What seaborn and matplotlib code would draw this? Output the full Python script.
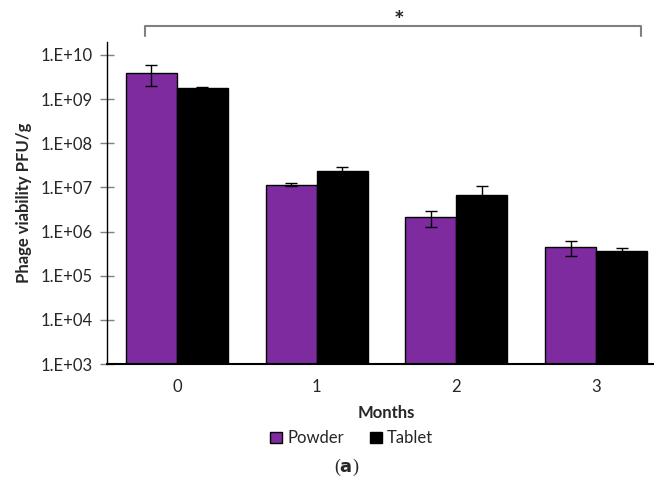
import numpy as np
import pandas as pd
import matplotlib
matplotlib.use("Agg")
import matplotlib.pyplot as plt
import seaborn as sns
from matplotlib.ticker import FixedLocator, FuncFormatter, NullLocator

months = ["0", "1", "2", "3"]
formas = ["Powder", "Tablet"]
powder = [3.9e9, 1.16e7, 2.1e6, 4.4e5]
powder_err = [1.95e9, 0.09e7, 0.8e6, 1.6e5]
tablet = [1.8e9, 2.3e7, 6.7e6, 3.55e5]
tablet_err = [0.03e9, 0.59e7, 4.0e6, 0.75e5]
cores = ["#7E2BA0", "#000000"]
yticks = [1e3, 1e4, 1e5, 1e6, 1e7, 1e8, 1e9, 1e10]

df = pd.DataFrame({
    "Months": months * 2,
    "Forma": ["Powder"] * 4 + ["Tablet"] * 4,
    "PFU": powder + tablet,
    "err": powder_err + tablet_err,
})

sns.set_style("white")
plt.rcParams["font.family"] = ["Lato", "DejaVu Sans"]

fig = plt.figure(figsize=(6.54, 4.79), dpi=100)
ax = fig.add_axes([0.1636, 0.240, 0.855, 0.673])

# log=True do seaborn da altura inf na segunda serie, entao escala log depois
sns.barplot(data=df, x="Months", y="PFU", hue="Forma", hue_order=formas,
            palette=dict(zip(formas, cores)), width=0.73, errorbar=None,
            saturation=1, edgecolor="black", linewidth=1.0, legend=False, ax=ax)

for cont, forma in zip(ax.containers, formas):
    sub = df[df["Forma"] == forma]
    xs = [p.get_x() + p.get_width() / 2 for p in cont]
    ax.errorbar(xs, sub["PFU"].values, yerr=sub["err"].values, fmt="none",
                ecolor="black", elinewidth=1.0, capsize=4, capthick=1.0, zorder=5)

ax.set_yscale("log")
ax.set_ylim(1e3, 10 ** 10.3)
ax.set_xlim(-0.5, 3.5)
ax.yaxis.set_major_locator(FixedLocator(yticks))
ax.yaxis.set_minor_locator(NullLocator())
ax.yaxis.set_major_formatter(FuncFormatter(lambda v, p: f"1.E+{int(round(np.log10(v))):02d}"))
ax.tick_params(axis="y", direction="inout", length=10, width=1.0, color="#808080",
               labelsize=12, pad=5, left=True)
ax.tick_params(axis="x", length=0, labelsize=12, pad=11)

for s in ["top", "right"]:
    ax.spines[s].set_visible(False)
ax.spines["left"].set_color("black")
ax.spines["bottom"].set_color("black")
ax.spines["left"].set_linewidth(1.0)
ax.spines["bottom"].set_linewidth(1.5)

ax.set_xlabel("Months", fontsize=12, fontweight="bold", labelpad=7)
ax.set_ylabel("Phage viability PFU/g", fontsize=12, fontweight="bold")
ax.yaxis.set_label_coords(-0.135, 0.5)

# colchete de significancia
ax.plot([0.068, 0.068, 0.955, 0.955], [1.018, 1.050, 1.050, 1.018],
        transform=ax.transAxes, color="#808080", lw=1.5, clip_on=False)
ax.text(0.523, 1.062, "*", transform=ax.transAxes, ha="center", va="center",
        fontsize=18, fontweight="bold")

handles = [plt.Rectangle((0, 0), 1, 1, facecolor=c, edgecolor="black", lw=1.0) for c in cores]
fig.legend(handles, formas, loc="center", bbox_to_anchor=(0.538, 0.085), ncol=2,
           frameon=False, fontsize=12, handlelength=0.7, handleheight=0.7,
           handletextpad=0.3, columnspacing=1.6)

fig.text(0.53, 0.024, r"($\mathbf{a}$)", ha="center", va="center", fontsize=13,
         family=["Liberation Serif", "DejaVu Serif"])

fig.savefig("out.png", dpi=100)
